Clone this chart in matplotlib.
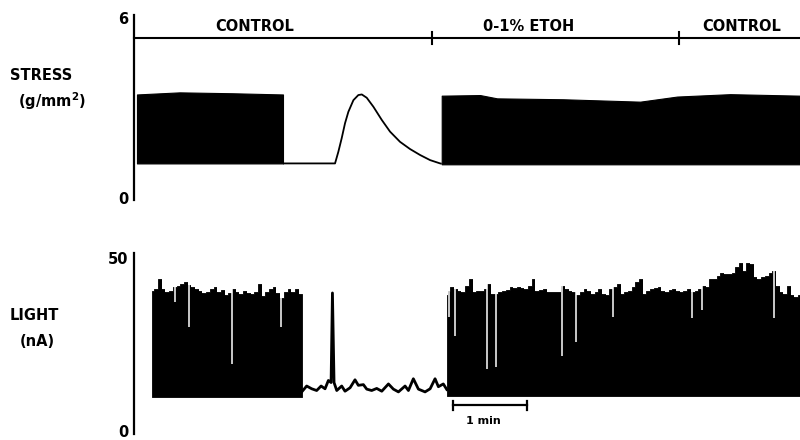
import numpy as np
import matplotlib
matplotlib.use("Agg")
import matplotlib.pyplot as plt

plt.rcParams['font.family'] = ['DejaVu Sans']

# ---------------- data (time in seconds) ----------------
# Stress (g/mm^2): envelope of the twitch records
stress_b1_t = [2.4, 37.0, 80.0, 120.8]
stress_b1_top = [3.45, 3.52, 3.49, 3.45]
stress_b1_bot = 1.15
stress_mid_t = [120.8, 163.0, 165.7, 168.4, 171.1, 173.8, 177.9, 181.9, 184.7, 188.7, 194.1,
                200.9, 207.6, 215.7, 223.8, 232.0, 240.1, 248.2, 249.5]
stress_mid_v = [1.15, 1.15, 1.54, 1.99, 2.49, 2.87, 3.26, 3.43, 3.45, 3.34, 3.04,
                2.60, 2.21, 1.87, 1.63, 1.43, 1.26, 1.15, 1.14]
stress_b2_t = [249.5, 280.6, 294.4, 347.9, 410.4, 440.4, 483.4, 540.0]
stress_b2_top = [3.41, 3.43, 3.32, 3.29, 3.21, 3.38, 3.46, 3.41]
stress_b2_bot = 1.12

# Conditions
cond_labels = ["CONTROL", "0-1% ETOH", "CONTROL"]
cond_label_t = [98, 320, 493]
cond_bounds = [242, 442]
cond_level = 5.33

# Light (nA): burst 1 envelope
light_b1_t = [14.9, 18, 21, 24, 27, 30, 33, 36, 39, 42, 45, 48, 51, 54, 57, 60, 63, 66,
              69, 72, 75, 78, 81, 84, 87, 90, 93, 96, 99, 102, 105, 108, 111, 114, 117,
              120, 123, 126, 129, 132, 136.0]
light_b1_top = [40.6, 41.1, 44.0, 41.1, 40.1, 40.6, 41.5, 41.8, 42.5, 43.0, 42.3, 41.6,
                40.9, 40.6, 39.9, 40.1, 41.1, 41.6, 40.3, 40.8, 39.4, 39.9, 41.1, 40.3,
                39.7, 40.6, 39.9, 39.7, 40.1, 42.5, 38.9, 40.3, 41.1, 41.6, 39.9, 38.5,
                40.1, 41.1, 40.1, 41.1, 39.7]
light_b1_base = 9.9

# Light between bursts (single trace)
light_mid_t = [136.0, 140.0, 144.1, 148.1, 151.7, 154.9, 157.6, 159.8, 160.9, 162.2, 164.4,
               168.4, 171.1, 175.2, 179.2, 181.9, 186.0, 188.7, 192.7, 196.8, 200.9, 206.3,
               210.3, 214.4, 219.8, 222.5, 226.5, 230.6, 236.0, 240.1, 244.1, 246.8, 250.8,
               253.6]
light_mid_v = [11.3, 13.0, 12.2, 11.7, 13.0, 12.2, 14.6, 14.0, 39.9, 14.0, 11.7, 13.0,
               11.5, 12.5, 14.8, 13.2, 13.4, 12.1, 11.7, 12.3, 11.5, 13.6, 12.1, 11.3,
               13.0, 11.7, 15.1, 12.1, 11.3, 12.2, 15.1, 12.8, 13.6, 12.0]

# Light burst 2 envelope
light_b2_t = [253.6, 255, 258, 261, 264, 267, 270, 273, 276, 279, 282, 285, 288, 291, 294,
              297, 300, 303, 306, 309, 312, 315, 318, 321, 324, 327, 330, 333, 336, 339,
              342, 345, 348, 351, 354, 357, 360, 363, 366, 369, 372, 375, 378, 381, 384,
              387, 390, 393, 396, 399, 402, 405, 408, 411, 414, 417, 420, 423, 426, 429,
              432, 435, 438, 441, 444, 447, 450, 453, 456, 459, 462, 465, 468, 471, 474,
              477, 480, 483, 486, 489, 492, 495, 498, 501, 504, 507, 510, 513, 516, 519,
              522, 525, 528, 531, 534, 537, 540]
light_b2_top = [39.2, 40.6, 41.6, 41.1, 40.6, 40.1, 42.0, 43.9, 40.1, 40.6, 40.6, 41.1,
                42.5, 39.7, 39.7, 40.1, 40.6, 40.8, 41.6, 41.4, 41.6, 41.4, 41.1, 42.0,
                43.9, 40.6, 40.8, 41.1, 40.3, 40.1, 40.1, 40.1, 42.0, 41.1, 40.6, 40.1,
                39.2, 40.1, 41.1, 40.6, 39.7, 40.1, 41.1, 39.7, 39.2, 41.1, 41.6, 42.5,
                39.7, 40.1, 40.6, 41.6, 43.0, 43.9, 39.7, 40.6, 41.1, 41.4, 41.6, 40.6,
                40.1, 40.8, 41.1, 40.6, 40.1, 40.6, 41.1, 40.1, 40.6, 41.1, 41.8, 41.6,
                43.9, 43.9, 44.9, 45.6, 45.4, 45.4, 45.8, 47.3, 48.7, 46.3, 48.7, 48.2,
                44.4, 43.9, 44.6, 44.9, 45.8, 46.3, 42.0, 40.1, 39.7, 42.0, 39.2, 38.7,
                39.2]
light_b2_base = 10.0

# White gaps (lower twitches) inside bursts: time, depth
gap_t = [33.0, 44.3, 79.2, 118.9, 255.0, 260.2, 286.0, 293.6, 346.9, 358.7, 388.2, 452.3, 460.4, 519.0]
gap_v = [37.3, 30.2, 19.3, 30.2, 33.0, 27.4, 17.9, 18.5, 21.7, 25.8, 33.0, 32.6, 34.9, 32.6]

# Scale bar: 1 min
scale_t = [259, 319]
scale_level = 7.4

# ---------------- figure ----------------
W, H = 800, 440
fig = plt.figure(figsize=(W / 100, H / 100), dpi=100)

def px_rect(x0, y_top, x1, y_bot):
    return [x0 / W, 1 - y_bot / H, (x1 - x0) / W, (y_bot - y_top) / H]

ax1 = fig.add_axes(px_rect(134, 15, 800, 200))
ax2 = fig.add_axes(px_rect(134, 253, 800, 434))

for ax in (ax1, ax2):
    for s in ('top', 'right', 'bottom'):
        ax.spines[s].set_visible(False)
    ax.spines['left'].set_linewidth(1.6)
    ax.set_xticks([])
    ax.tick_params(axis='y', length=0, pad=4)
    ax.set_xlim(0, 540)
    ax.patch.set_alpha(0)

# Stress panel
ax1.set_ylim(-0.07, 6.1)
ax1.set_yticks([0, 6])
ax1.set_yticklabels(['0', '6'], fontweight='bold', fontsize=10.5)
ax1.fill_between(stress_b1_t, stress_b1_bot, stress_b1_top, color='black', lw=0.8, edgecolor='black')
ax1.fill_between(stress_b2_t, stress_b2_bot, stress_b2_top, color='black', lw=0.8, edgecolor='black', clip_on=False)
ax1.plot(stress_mid_t, stress_mid_v, color='black', lw=1.3, solid_capstyle='butt', solid_joinstyle='round')

ax1.plot([0, 540], [cond_level, cond_level], color='black', lw=1.5, clip_on=False)
for b in cond_bounds:
    ax1.plot([b, b], [cond_level - 0.2, cond_level + 0.2], color='black', lw=1.5)
for lab, t in zip(cond_labels, cond_label_t):
    ax1.text(t, cond_level + 0.15, lab, ha='center', va='bottom', fontsize=10.5, fontweight='bold')

# Light panel
ax2.set_ylim(-0.87, 51.45)
ax2.set_yticks([0, 50])
ax2.set_yticklabels(['0', '50'], fontweight='bold', fontsize=10.5)
ax2.fill_between(light_b1_t, light_b1_base, light_b1_top, step='mid', color='black', lw=0.6, edgecolor='black')
ax2.fill_between(light_b2_t, light_b2_base, light_b2_top, step='mid', color='black', lw=0.6, edgecolor='black', clip_on=False)
ax2.plot(light_mid_t, light_mid_v, color='black', lw=2.0, solid_joinstyle='round')
ax2.vlines(gap_t, gap_v, [50] * len(gap_t), colors='white', lw=1.1)
# re-cap tops so gaps only cut down from the envelope
ax2.fill_between(light_b1_t, light_b1_top, 52, step='mid', color='white', lw=0)
ax2.fill_between(light_b2_t, light_b2_top, 52, step='mid', color='white', lw=0)

ax2.plot(scale_t, [scale_level, scale_level], color='black', lw=1.6)
for st in scale_t:
    ax2.plot([st, st], [scale_level - 1.2, scale_level + 1.2], color='black', lw=1.6)
ax2.text(sum(scale_t) / 2 - 6, scale_level - 3.0, '1 min', ha='center', va='top', fontsize=8, fontweight='bold')

# Side labels
def ftext(x, y, s, **kw):
    fig.text(x / W, 1 - y / H, s, fontweight='bold', fontsize=10.5, **kw)

ftext(10, 75, 'STRESS', ha='left', va='center')
ftext(18, 101, '(g/mm$^\\mathbf{2}$)', ha='left', va='center')
ftext(10, 315, 'LIGHT', ha='left', va='center')
ftext(20, 342, '(nA)', ha='left', va='center')

fig.savefig('out.png', dpi=100)
